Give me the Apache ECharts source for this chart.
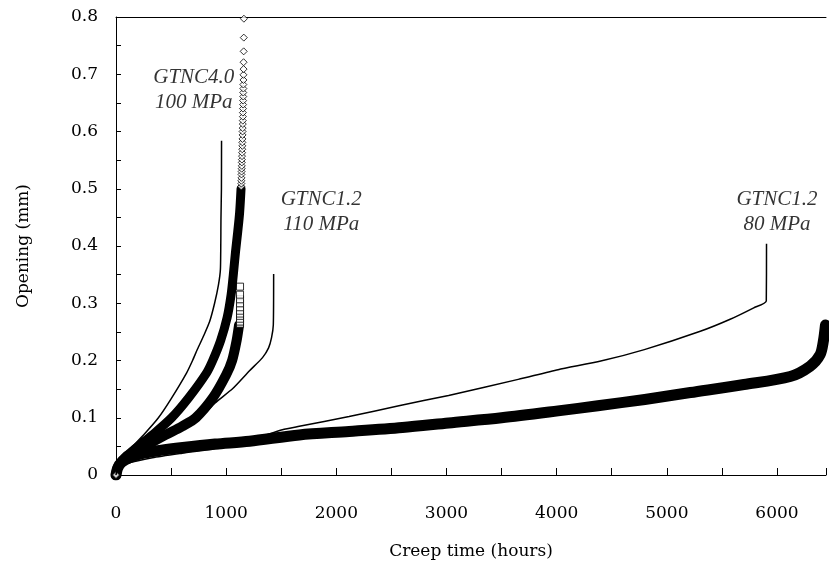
<!DOCTYPE html>
<html>
<head>
<meta charset="utf-8">
<script src="https://cdn.jsdelivr.net/npm/echarts@6/dist/echarts.min.js"></script>
<style>html,body{margin:0;padding:0;background:#fff}#c{width:829px;height:570px}</style>
</head>
<body>
<div id="c"></div>
<script>
// x tick values (hours) and y tick values (mm)
const xTickStep = 500, xLabelStep = 1000, xMin = 0, xMax = 6445;
const yTickStep = 0.05, yMin = 0, yMax = 0.8;

// GTNC1.2 80 MPa, experimental (dense markers -> thick band)
const exp80Band = [[0,0],[15,0.012],[50,0.022],[120,0.03],[250,0.038],[400,0.043],[606,0.048],[900,0.054],[1212,0.059],[1664,0.07],[2116,0.076],[2600,0.083],[3019,0.091],[3500,0.1],[4013,0.112],[4374,0.121],[4800,0.132],[5214,0.144],[5700,0.158],[6120,0.172],[6301,0.19],[6391,0.21],[6422,0.235],[6440,0.262]];
// GTNC1.2 80 MPa, simulation
const sim80 = [[0,0],[10,0.012],[100,0.02],[330,0.03],[600,0.038],[1000,0.049],[1300,0.066],[1510,0.079],[1664,0.085],[2116,0.102],[2568,0.121],[3019,0.139],[3651,0.167],[4013,0.184],[4401,0.199],[4796,0.219],[5304,0.251],[5575,0.272],[5789,0.292],[5903,0.304],[5905,0.404]];
// GTNC1.2 110 MPa, simulation
const sim110 = [[0,0],[30,0.014],[100,0.028],[250,0.048],[450,0.07],[760,0.1],[900,0.126],[1060,0.151],[1212,0.182],[1330,0.205],[1385,0.222],[1412,0.24],[1428,0.262],[1431,0.351]];
// GTNC1.2 110 MPa, experimental (squares)
const exp110Band = [[0,0],[20,0.015],[100,0.033],[260,0.05],[450,0.07],[600,0.085],[725,0.1],[880,0.135],[1000,0.175],[1054,0.2],[1095,0.235],[1117,0.262]];
const exp110Squares = [[1126,0.264],[1126,0.268],[1126,0.273],[1126,0.278],[1126,0.282],[1126,0.287],[1126,0.293],[1126,0.300],[1126,0.307],[1126,0.315],[1126,0.329]];
// GTNC4.0 100 MPa, experimental (diamonds)
const exp100Band = [[0,0],[20,0.015],[80,0.03],[200,0.05],[330,0.07],[505,0.1],[660,0.135],[821,0.178],[878,0.2],[950,0.235],[1009,0.275],[1045,0.315],[1065,0.35],[1085,0.39],[1105,0.425],[1122,0.458],[1135,0.5]];
const exp100Diamonds = [[0,0],[1137,0.504],[1138,0.509],[1138,0.514],[1139,0.519],[1139,0.525],[1140,0.530],[1141,0.535],[1142,0.540],[1142,0.546],[1143,0.551],[1144,0.557],[1145,0.563],[1146,0.569],[1147,0.575],[1147,0.581],[1148,0.587],[1149,0.594],[1149,0.600],[1150,0.606],[1151,0.613],[1151,0.619],[1152,0.626],[1152,0.633],[1153,0.640],[1154,0.647],[1154,0.654],[1155,0.661],[1155,0.668],[1156,0.675],[1156,0.682],[1157,0.690],[1157,0.699],[1158,0.709],[1158,0.721],[1159,0.740],[1160,0.764],[1161,0.797]];
// GTNC4.0 100 MPa, simulation
const simA = [[0,0],[15,0.015],[60,0.03],[150,0.05],[250,0.07],[385,0.1],[500,0.133],[640,0.178],[695,0.2],[740,0.22],[800,0.245],[850,0.268],[895,0.3],[930,0.332],[948,0.36],[953,0.45],[957,0.5],[958,0.584]];
// annotation texts and their anchor in data units
const annotations = [
  {text:'GTNC4.0\n100 MPa', at:[706,0.672]},
  {text:'GTNC1.2\n110 MPa', at:[1863,0.46]},
  {text:'GTNC1.2\n80 MPa', at:[6000,0.46]}
];

const serif = 'DejaVu Serif';
const chart = echarts.init(document.getElementById('c'), null, {renderer:'canvas'});
const black = '#000';
function thin(data, z){ return {type:'line', data, symbol:'none', z, smooth:0.2, lineStyle:{color:black,width:1.5}, silent:true}; }
function band(data, w, z){ return {type:'line', data, symbol:'none', z, smooth:0.3, lineStyle:{color:black,width:w,cap:'round',join:'round'}, silent:true}; }

chart.setOption({
  animation:false,
  backgroundColor:'#fff',
  grid:{left:116, right:0, top:17, bottom:95, containLabel:false},
  xAxis:[{
    type:'value', min:xMin, max:xMax, interval:xTickStep,
    axisLine:{show:true, onZero:false, lineStyle:{color:black,width:1}},
    axisTick:{show:true, inside:true, length:7, lineStyle:{color:black}},
    axisLabel:{formatter:v => (v % xLabelStep === 0 ? String(v) : ''), margin:30, color:black, fontFamily:serif, fontSize:17},
    splitLine:{show:false},
    name:'Creep time (hours)', nameLocation:'middle', nameGap:68,
    nameTextStyle:{color:black, fontFamily:serif, fontSize:17}
  },{
    type:'value', position:'top', min:xMin, max:xMax,
    axisLine:{show:true, onZero:false, lineStyle:{color:black,width:1}},
    axisTick:{show:false}, axisLabel:{show:false}, splitLine:{show:false}
  }],
  yAxis:{
    type:'value', min:yMin, max:yMax, interval:yTickStep,
    axisLine:{show:true, onZero:false, lineStyle:{color:black,width:1}},
    axisTick:{show:true, inside:true, length:5, lineStyle:{color:black}},
    axisLabel:{formatter:v => { const r = Math.round(v*100); return r % 10 === 0 ? String(r/100) : ''; }, margin:18, color:black, fontFamily:serif, fontSize:17},
    splitLine:{show:false},
    name:'Opening (mm)', nameLocation:'middle', nameGap:84,
    nameTextStyle:{color:black, fontFamily:serif, fontSize:17}
  },
  series:[
    band(exp80Band, 11, 2),
    thin(sim80, 3),
    thin(sim110, 4),
    band(exp110Band, 10, 5),
    {type:'scatter', data:exp110Squares, symbol:'rect', symbolSize:[7,7], z:6, silent:true,
     itemStyle:{color:'#fff', borderColor:black, borderWidth:1}},
    band(exp100Band, 9, 7),
    {type:'scatter', data:exp100Diamonds, symbol:'diamond', symbolSize:[7,7], z:8, silent:true,
     itemStyle:{color:'#fff', borderColor:black, borderWidth:1}},
    thin(simA, 9),
    {type:'scatter', xAxisIndex:0, data:annotations.map(a => ({value:a.at, name:a.text})), symbolSize:0, z:10, silent:true,
     label:{show:true, position:'inside', formatter:p => p.name, color:black, fontFamily:'Liberation Serif', fontStyle:'italic', fontSize:21, lineHeight:25, align:'center', verticalAlign:'middle'}}
  ]
});
</script>
</body>
</html>
